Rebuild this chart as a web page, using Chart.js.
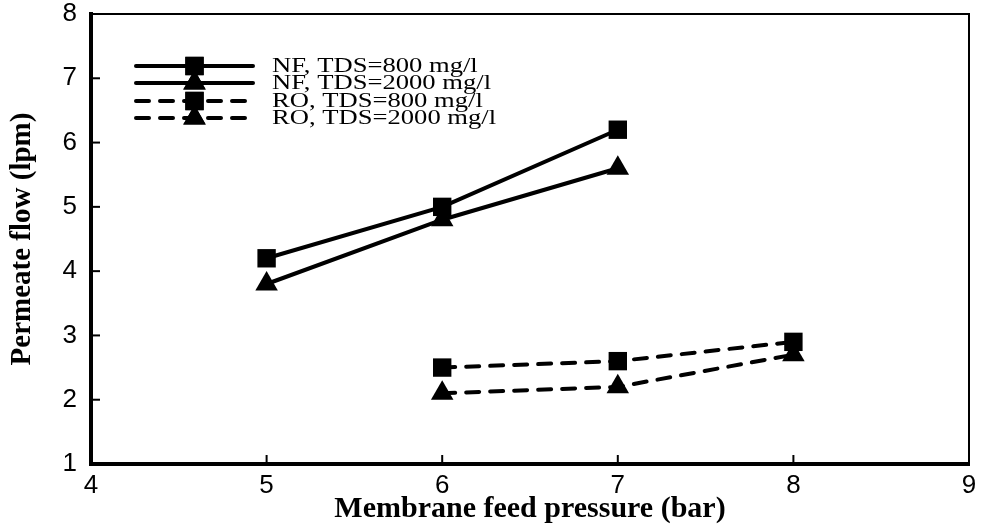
<!DOCTYPE html>
<html lang="en">
<head>
    <meta charset="UTF-8">
    <title>Permeate flow vs membrane feed pressure</title>
    <style>
        body { margin: 0; background: #fff; }
        #wrap { width: 982px; height: 529px; }
    </style>
</head>
<body>
    <div id="wrap"><canvas id="flowChart"></canvas></div>

    <script src="https://cdn.jsdelivr.net/npm/chart.js"></script>
    <script>
        // data
        const nfPressure = [5, 6, 7];
        const roPressure = [6, 7, 8];
        const nf800 = [4.2, 5.0, 6.2];
        const nf2000 = [3.8, 4.8, 5.6];
        const ro800 = [2.5, 2.6, 2.9];
        const ro2000 = [2.1, 2.2, 2.7];
        const seriesNames = ['NF, TDS=800 mg/l', 'NF, TDS=2000 mg/l', 'RO, TDS=800 mg/l', 'RO, TDS=2000 mg/l'];
        const xTicks = [4, 5, 6, 7, 8, 9];
        const yTicks = [1, 2, 3, 4, 5, 6, 7, 8];

        const dash = [13, 11];
        const serif = '"Liberation Serif", "Times New Roman", serif';
        const sans = '"Liberation Sans", Arial, sans-serif';

        function toPoints(xs, ys) {
            return xs.map((x, i) => ({ x: x, y: ys[i] }));
        }

        function makeSet(label, xs, ys, style, dashed) {
            return {
                label: label,
                data: toPoints(xs, ys),
                showLine: true,
                borderColor: '#000',
                backgroundColor: '#000',
                borderWidth: 4,
                borderDash: dashed ? dash : [],
                borderCapStyle: 'round',
                pointStyle: style,
                pointRadius: 13,
                pointHoverRadius: 13,
                pointBorderWidth: 0
            };
        }

        // inward ticks, thin top/right frame, custom legend
        const framePlugin = {
            id: 'frame',
            afterDraw(chart) {
                const ctx = chart.ctx;
                const area = chart.chartArea;
                const xs = chart.scales.x, ys = chart.scales.y;
                ctx.save();
                ctx.strokeStyle = '#000';
                ctx.lineWidth = 2;
                ctx.beginPath();
                ctx.moveTo(area.left, area.top);
                ctx.lineTo(area.right, area.top);
                ctx.lineTo(area.right, area.bottom);
                ctx.stroke();

                xTicks.forEach(v => {
                    const px = xs.getPixelForValue(v);
                    ctx.beginPath();
                    ctx.moveTo(px, area.bottom);
                    ctx.lineTo(px, area.bottom - 9);
                    ctx.stroke();
                });
                yTicks.forEach(v => {
                    const py = ys.getPixelForValue(v);
                    ctx.beginPath();
                    ctx.moveTo(area.left, py);
                    ctx.lineTo(area.left + 9, py);
                    ctx.stroke();
                });

                // legend
                const x0 = area.left + 45, x1 = area.left + 162, tx = area.left + 181;
                const rows = [66, 83, 101, 118];
                ctx.textBaseline = 'middle';
                ctx.fillStyle = '#000';
                chart.data.datasets.forEach((ds, i) => {
                    const y = rows[i];
                    ctx.lineWidth = 4;
                    ctx.lineCap = 'round';
                    ctx.setLineDash(ds.borderDash);
                    ctx.beginPath();
                    ctx.moveTo(x0, y);
                    ctx.lineTo(x1, y);
                    ctx.stroke();
                    ctx.setLineDash([]);
                    Chart.helpers.drawPoint(ctx, { pointStyle: ds.pointStyle, radius: 13, borderWidth: 0 }, (x0 + x1) / 2, y);
                    ctx.fill();
                    // legend text in the figure is a little wider than plain Times
                    ctx.save();
                    ctx.translate(tx, y + 1);
                    ctx.scale(1.33, 1);
                    ctx.font = '20px ' + serif;
                    ctx.fillText(seriesNames[i], 0, 0);
                    ctx.restore();
                });
                ctx.restore();
            }
        };

        new Chart(document.getElementById('flowChart'), {
            type: 'scatter',
            data: {
                datasets: [
                    makeSet(seriesNames[0], nfPressure, nf800, 'rect', false),
                    makeSet(seriesNames[1], nfPressure, nf2000, 'triangle', false),
                    makeSet(seriesNames[2], roPressure, ro800, 'rect', true),
                    makeSet(seriesNames[3], roPressure, ro2000, 'triangle', true)
                ]
            },
            options: {
                responsive: true,
                maintainAspectRatio: false,
                animation: false,
                layout: { padding: { top: 14, right: 6, left: 0, bottom: 0 } },
                plugins: {
                    legend: { display: false },
                    tooltip: { enabled: false }
                },
                scales: {
                    x: {
                        type: 'linear',
                        min: 4,
                        max: 9,
                        afterBuildTicks: s => { s.ticks = xTicks.map(v => ({ value: v })); },
                        afterFit: s => { s.height = 65; s.paddingLeft = 0; s.paddingRight = 0; },
                        grid: { display: false, drawTicks: false },
                        border: { display: true, color: '#000', width: 4 },
                        ticks: {
                            color: '#000',
                            padding: 6,
                            font: { family: sans, size: 26 }
                        },
                        title: {
                            display: true,
                            text: 'Membrane feed pressure (bar)',
                            color: '#000',
                            padding: { top: 0, bottom: 2 },
                            font: { family: serif, size: 30, weight: 'bold' }
                        }
                    },
                    y: {
                        type: 'linear',
                        min: 1,
                        max: 8,
                        afterBuildTicks: s => { s.ticks = yTicks.map(v => ({ value: v })); },
                        afterFit: s => { s.width = 91; s.paddingTop = 0; s.paddingBottom = 0; },
                        grid: { display: false, drawTicks: false },
                        border: { display: true, color: '#000', width: 4 },
                        ticks: {
                            color: '#000',
                            padding: 14,
                            font: { family: sans, size: 26 }
                        },
                        title: {
                            display: true,
                            text: 'Permeate flow (lpm)',
                            color: '#000',
                            padding: { top: 5, bottom: 0 },
                            font: { family: serif, size: 29, weight: 'bold' }
                        }
                    }
                }
            },
            plugins: [framePlugin]
        });
    </script>
</body>
</html>
